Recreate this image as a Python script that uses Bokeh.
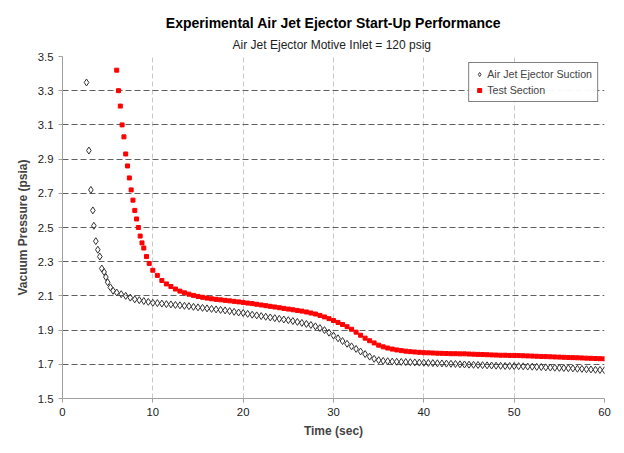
import numpy as np
from bokeh.plotting import figure
from bokeh.models import Title, Range1d, FixedTicker, Legend, LegendItem, CustomJSTickFormatter
from bokeh.embed import file_html
from bokeh.resources import INLINE

FONT = "Liberation Sans"

suction_t = [2.66, 2.92, 3.14, 3.36, 3.47, 3.69, 3.91, 4.13, 4.35, 4.6, 4.8, 5.0, 5.3, 5.6, 6.0, 6.5, 7.0, 7.5, 8.0, 8.5, 9.0, 9.5]
suction_p = [3.348, 2.95, 2.72, 2.60, 2.51, 2.42, 2.37, 2.33, 2.26, 2.24, 2.21, 2.18, 2.15, 2.13, 2.12, 2.11, 2.10, 2.09, 2.08, 2.075, 2.07, 2.065]
suction_t2 = [10 + 0.5 * i for i in range(101)]
suction_p2 = [2.060, 2.058, 2.055, 2.052, 2.050, 2.047, 2.045, 2.042, 2.040, 2.036,
              2.033, 2.030, 2.027, 2.024, 2.021, 2.018, 2.015, 2.011, 2.007, 2.003,
              2.000, 1.995, 1.990, 1.986, 1.982, 1.978, 1.974, 1.970, 1.966, 1.962,
              1.958, 1.953, 1.948, 1.942, 1.936, 1.930, 1.922, 1.912, 1.900, 1.885,
              1.868, 1.852, 1.836, 1.820, 1.805, 1.790, 1.775, 1.760, 1.745, 1.732,
              1.724, 1.720, 1.718, 1.716, 1.715, 1.714, 1.713, 1.712, 1.711, 1.710,
              1.709, 1.708, 1.707, 1.706, 1.705, 1.704, 1.703, 1.702, 1.700, 1.699,
              1.698, 1.697, 1.696, 1.695, 1.694, 1.693, 1.692, 1.691, 1.690, 1.690,
              1.690, 1.689, 1.688, 1.687, 1.686, 1.685, 1.684, 1.682, 1.681, 1.680,
              1.679, 1.678, 1.677, 1.676, 1.674, 1.673, 1.671, 1.670, 1.668, 1.667, 1.665]

test_t = [6.0, 6.2, 6.4, 6.6, 6.8, 7.0, 7.2, 7.4, 7.6, 7.8, 8.0, 8.2, 8.4, 8.6, 8.8, 9.0, 9.3, 9.6]
test_p = [3.42, 3.30, 3.21, 3.10, 3.03, 2.93, 2.86, 2.79, 2.72, 2.66, 2.60, 2.55, 2.50, 2.45, 2.41, 2.38, 2.33, 2.29]
test_t2 = [10 + 0.5 * i for i in range(101)]
test_p2 = [2.25, 2.22, 2.19, 2.17, 2.155, 2.14, 2.128, 2.118, 2.11, 2.103,
           2.097, 2.092, 2.087, 2.083, 2.08, 2.077, 2.074, 2.071, 2.068, 2.065,
           2.062, 2.058, 2.055, 2.051, 2.047, 2.043, 2.039, 2.035, 2.031, 2.027,
           2.023, 2.019, 2.015, 2.011, 2.006, 2.0, 1.994, 1.986, 1.977, 1.967,
           1.956, 1.945, 1.933, 1.920, 1.905, 1.888, 1.870, 1.853, 1.838, 1.825,
           1.812, 1.802, 1.795, 1.789, 1.784, 1.780, 1.777, 1.774, 1.772, 1.770,
           1.768, 1.767, 1.766, 1.765, 1.764, 1.763, 1.762, 1.762, 1.761, 1.761,
           1.760, 1.759, 1.758, 1.757, 1.756, 1.755, 1.754, 1.753, 1.753, 1.752,
           1.752, 1.751, 1.750, 1.749, 1.748, 1.747, 1.746, 1.745, 1.744, 1.743,
           1.742, 1.741, 1.740, 1.739, 1.738, 1.737, 1.736, 1.735, 1.734, 1.733, 1.732]

x_ticks = [0, 10, 20, 30, 40, 50, 60]
y_ticks = [1.5, 1.7, 1.9, 2.1, 2.3, 2.5, 2.7, 2.9, 3.1, 3.3, 3.5]

p = figure(width=616, height=445, output_backend="svg", toolbar_location=None,
           x_range=Range1d(0, 60), y_range=Range1d(1.5, 3.5),
           min_border_left=62, min_border_right=12, min_border_top=56, min_border_bottom=47)
p.title = None
p.add_layout(Title(text="Air Jet Ejector Motive  Inlet = 120 psig", align="center",
                   text_font=FONT, text_font_size="9pt", text_font_style="normal",
                   text_color="#222222", standoff=10), "above")
p.add_layout(Title(text="Experimental Air Jet Ejector Start-Up Performance", align="center",
                   text_font=FONT, text_font_size="10.5pt", text_font_style="bold",
                   text_color="#000000", standoff=0), "above")
p.outline_line_color = None

for ax, ticks in ((p.xaxis, x_ticks), (p.yaxis, y_ticks)):
    ax.ticker = FixedTicker(ticks=ticks)
    ax.axis_line_color = "#a0a0a0"
    ax.major_tick_line_color = "#a0a0a0"
    ax.minor_tick_line_color = None
    ax.major_tick_in = 0
    ax.major_tick_out = 4
    ax.major_label_text_font = FONT
    ax.major_label_text_font_size = "8.5pt"
    ax.major_label_text_color = "#222222"
    ax.axis_label_text_font = FONT
    ax.axis_label_text_font_size = "9pt"
    ax.axis_label_text_font_style = "bold"
p.xaxis.axis_label = "Time (sec)"
p.yaxis.axis_label = "Vacuum Pressure (psia)"
p.yaxis.formatter = CustomJSTickFormatter(code="return tick.toFixed(1);")

p.xgrid.ticker = FixedTicker(ticks=x_ticks)
p.ygrid.ticker = FixedTicker(ticks=y_ticks)
p.xgrid.grid_line_color = "#c8c8c8"
p.xgrid.grid_line_dash = "5 3"
p.ygrid.grid_line_color = "#606060"
p.ygrid.grid_line_dash = "6 3"

r1 = p.scatter(suction_t + suction_t2, suction_p + suction_p2, marker="diamond", size=7,
               fill_color="white", fill_alpha=0, line_color="#333333", line_width=1)
r2 = p.scatter(test_t + test_t2, test_p + test_p2, marker="square", size=4,
               fill_color="#ff0000", line_color="#ff0000")

legend = Legend(items=[LegendItem(label="Air Jet Ejector Suction", renderers=[r1]),
                       LegendItem(label="Test Section", renderers=[r2])],
                location="top_right", border_line_color="#000000",
                label_text_font=FONT, label_text_font_size="8pt",
                glyph_width=10, glyph_height=10, spacing=4, padding=5, margin=6,
                label_standoff=3, label_height=12)
p.add_layout(legend)

open("out.html", "w").write(file_html(p, INLINE))
